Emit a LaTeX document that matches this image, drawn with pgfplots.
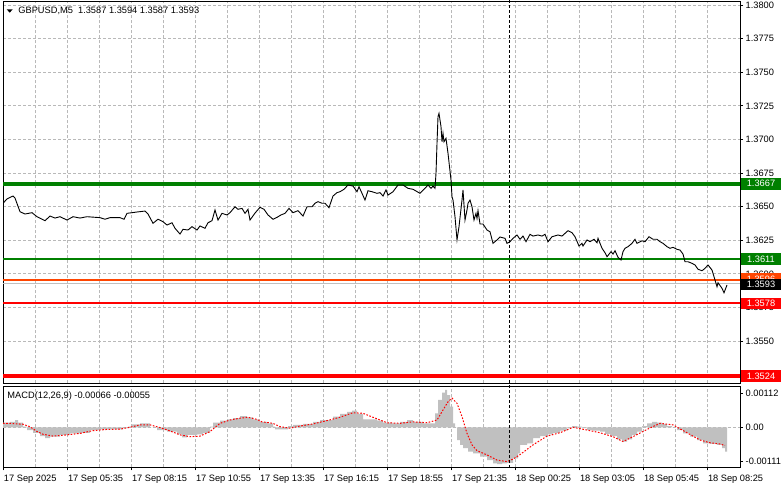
\documentclass[border=0pt]{standalone}
\usepackage{fontspec}
\setmainfont{Liberation Sans}
\usepackage{pgfplots}
\pgfplotsset{compat=1.18}
\definecolor{mtgreen}{RGB}{0,128,0}
\definecolor{mtred}{RGB}{255,0,0}
\definecolor{mtorange}{RGB}{255,69,0}
\definecolor{mtsilver}{RGB}{192,192,192}
\definecolor{gridgray}{RGB}{185,185,185}
\newcommand\mtfont{\fontsize{9.3}{10}\selectfont}
\pgfplotsset{
  mtpanel/.style={
    scale only axis, width=737bp,
    xmin=3, xmax=740,
    axis line style={black, line width=0.8bp},
    tick style={black, line width=0.8bp},
    tick align=outside, major tick length=3bp, minor tick length=0pt,
    xtick={3.5,67.5,131.5,195.5,259.5,323.5,387.5,451.5,515.5,579.5,643.5,707.5},
    minor xtick={35.5,99.5,163.5,227.5,291.5,355.5,419.5,483.5,547.5,611.5,675.5},
    xmajorgrids, xminorgrids,
    grid style={gridgray, dash pattern=on 3bp off 2bp, line width=0.8bp},
    ytick pos=right, yticklabel pos=right,
    scaled y ticks=false,
    yticklabel style={anchor=west, inner sep=0pt, xshift=2.5bp, font=\mtfont},
    xticklabel style={anchor=north west, inner sep=0pt, xshift=0.3bp, yshift=-5bp, font=\mtfont},
    clip mode=individual,
  },
}
\tikzset{
  lvlbox/.style={anchor=west, minimum width=40bp, minimum height=11.5bp,
    inner xsep=0pt, inner ysep=0pt, text=white, font=\mtfont},
}
\begin{document}
\begin{tikzpicture}
\useasboundingbox (0,0) rectangle (781bp,489bp);
\fill[white] (0,0) rectangle (781bp,489bp);

% price panel
\begin{axis}[mtpanel,
  at={(3bp,105.5bp)}, anchor=south west, height=382.5bp,
  ymin=1.35184, ymax=1.3803,
  xticklabels={}, xtick style={draw=none},
  ymajorgrids,
  ytick={1.3525,1.355,1.3575,1.36,1.3625,1.365,1.3675,1.37,1.3725,1.375,1.3775,1.38},
  yticklabels={1.3525,1.3550,1.3575,1.3600,1.3625,1.3650,1.3675,1.3700,1.3725,1.3750,1.3775,1.3800},
]
% period separator
\addplot[black, dash pattern=on 3bp off 2bp, line width=0.8bp] coordinates {(509,1.34) (509,1.39)};
% levels
\addplot[mtgreen, line width=4bp] coordinates {(3,1.3667) (740,1.3667)};
\addplot[mtgreen, line width=2bp] coordinates {(3,1.3611) (740,1.3611)};
\addplot[mtorange, line width=1.4bp] coordinates {(3,1.35955) (740,1.35955)};
\addplot[mtsilver, line width=1.2bp] coordinates {(3,1.3593) (740,1.3593)};
\addplot[mtred, line width=2bp] coordinates {(3,1.3578) (740,1.3578)};
\addplot[mtred, line width=4bp] coordinates {(3,1.3524) (740,1.3524)};
% GBPUSD M5 close
\addplot[black, line width=0.9bp] table {
x y
3 1.36525
7 1.36557
13 1.36579
15 1.36564
20 1.36462
25 1.36445
32 1.36455
37 1.36425
45 1.36395
50 1.36430
55 1.36415
60 1.36425
67 1.36400
73 1.36425
80 1.36415
87 1.36425
100 1.36418
105 1.36406
110 1.36418
120 1.36418
124 1.36406
127 1.36450
132 1.36455
137 1.36460
145 1.36467
148 1.36445
153 1.36376
158 1.36406
163 1.36388
167 1.36363
172 1.36380
175 1.36339
180 1.36296
183 1.36331
188 1.36326
192 1.36351
197 1.36326
200 1.36356
205 1.36339
208 1.36380
212 1.36395
215 1.36475
218 1.36400
222 1.36450
227 1.36438
230 1.36455
235 1.36499
238 1.36480
242 1.36487
245 1.36450
248 1.36480
250 1.36400
255 1.36452
260 1.36495
264 1.36480
268 1.36438
273 1.36406
277 1.36420
281 1.36438
285 1.36450
289 1.36487
293 1.36455
298 1.36470
303 1.36430
307 1.36499
312 1.36499
315 1.36525
318 1.36537
322 1.36525
325 1.36525
329 1.36492
333 1.36579
337 1.36604
340 1.36611
344 1.36629
348 1.36661
353 1.36653
357 1.36611
359 1.36648
362 1.36599
365 1.36549
368 1.36618
372 1.36611
377 1.36599
380 1.36604
383 1.36579
386 1.36624
388 1.36586
393 1.36611
398 1.36661
403 1.36661
408 1.36636
413 1.36629
420 1.36599
425 1.36636
428 1.36661
431 1.36636
433 1.36653
435 1.36636
436 1.36748
437 1.36971
438 1.37169
439 1.37194
441 1.37095
442 1.36983
443 1.37045
444 1.36983
446 1.37008
448 1.36897
451 1.36698
452 1.36574
453 1.36549
455 1.36425
457 1.36252
459 1.36351
462 1.36549
463 1.36624
465 1.36400
467 1.36475
468 1.36525
470 1.36549
472 1.36499
474 1.36400
476 1.36450
477 1.36413
478 1.36470
480 1.36371
483 1.36371
487 1.36326
490 1.36313
493 1.36227
497 1.36252
500 1.36274
505 1.36264
507 1.36227
510 1.36239
513 1.36264
517 1.36289
520 1.36257
523 1.36281
526 1.36239
530 1.36294
533 1.36281
538 1.36289
542 1.36281
545 1.36294
548 1.36239
552 1.36276
558 1.36289
562 1.36281
565 1.36301
568 1.36321
572 1.36306
575 1.36276
579 1.36207
582 1.36227
583 1.36207
587 1.36252
590 1.36239
594 1.36257
597 1.36231
598 1.36264
602 1.36190
605 1.36157
607 1.36127
611 1.36165
613 1.36147
615 1.36172
618 1.36123
621 1.36103
623 1.36165
625 1.36190
628 1.36202
632 1.36227
635 1.36257
637 1.36227
642 1.36246
645 1.36239
649 1.36276
653 1.36257
657 1.36257
660 1.36239
663 1.36227
667 1.36202
670 1.36190
673 1.36197
677 1.36182
680 1.36177
683 1.36147
685 1.36090
688 1.36090
692 1.36078
695 1.36066
698 1.36034
702 1.36023
705 1.36041
708 1.36066
712 1.36028
715 1.35954
717 1.35904
718 1.35934
722 1.35892
724 1.35859
727 1.35917
};
% level labels on the price scale
\node[lvlbox, fill=mtgreen] at (axis cs:740.8,1.3667) {1.3667};
\node[lvlbox, fill=mtgreen] at (axis cs:740.8,1.3611) {1.3611};
\node[lvlbox, fill=mtorange] at (axis cs:740.8,1.35962) {1.3596};
\node[lvlbox, fill=black] at (axis cs:740.8,1.3592) {1.3593};
\node[lvlbox, fill=mtred] at (axis cs:740.8,1.3578) {1.3578};
\node[lvlbox, fill=mtred] at (axis cs:740.8,1.3524) {1.3524};
\end{axis}

% MACD panel
\begin{axis}[mtpanel,
  at={(3bp,21.7bp)}, anchor=south west, height=81.3bp,
  ymin=-0.001318, ymax=0.00136,
  xtick pos=bottom,
  xticklabels={17 Sep 2025,17 Sep 05:35,17 Sep 08:15,17 Sep 10:55,17 Sep 13:35,17 Sep 16:15,17 Sep 18:55,17 Sep 21:35,18 Sep 00:25,18 Sep 03:05,18 Sep 05:45,18 Sep 08:25},
  ytick={-0.00111,0,0.00112},
  yticklabels={-0.00111,0.00,0.00112},
]
\addplot[gridgray, dash pattern=on 3bp off 2bp, line width=0.8bp] coordinates {(3,0) (740,0)};
% histogram
\addplot[draw=none, fill=mtsilver, const plot] table {
x y
3 0.00015
10 0.00018
15 0.00024
18 0.00015
23 0.00002
27 -0.00009
33 -0.00018
40 -0.00029
45 -0.00036
50 -0.00031
60 -0.00025
70 -0.00020
80 -0.00018
90 -0.00009
100 -0.00007
113 -0.00007
123 -0.00003
128 0.00002
132 0.00010
140 0.00013
147 0.00013
150 0.00000
157 -0.00009
167 -0.00014
177 -0.00023
182 -0.00033
187 -0.00025
197 -0.00023
203 -0.00018
210 0.00002
213 0.00015
220 0.00022
227 0.00026
233 0.00030
240 0.00037
247 0.00033
253 0.00026
258 0.00022
260 0.00018
267 0.00013
273 0.00002
275 -0.00007
283 -0.00007
288 0.00004
293 0.00008
303 0.00011
313 0.00018
320 0.00024
327 0.00024
333 0.00035
340 0.00044
347 0.00051
352 0.00055
357 0.00044
363 0.00026
370 0.00026
377 0.00022
383 0.00015
392 0.00013
400 0.00018
407 0.00024
413 0.00018
423 0.00013
433 0.00013
435 0.00046
438 0.00090
442 0.00114
445 0.00123
447 0.00106
450 0.00068
453 0.00013
455 0.00000
457 -0.00042
460 -0.00058
463 -0.00069
468 -0.00080
473 -0.00086
480 -0.00097
487 -0.00108
493 -0.00119
497 -0.00121
502 -0.00119
507 -0.00117
513 -0.00102
518 -0.00086
520 -0.00058
527 -0.00053
533 -0.00036
540 -0.00029
547 -0.00023
553 -0.00018
560 -0.00011
567 -0.00003
572 0.00004
577 0.00002
582 -0.00003
587 -0.00009
593 -0.00011
600 -0.00014
605 -0.00022
610 -0.00029
617 -0.00040
622 -0.00047
627 -0.00040
632 -0.00025
637 -0.00014
642 0.00004
647 0.00013
652 0.00018
657 0.00015
662 0.00011
667 0.00004
672 0.00000
677 -0.00009
683 -0.00020
690 -0.00031
697 -0.00042
703 -0.00053
710 -0.00055
717 -0.00058
722 -0.00069
725 -0.00080
727 -0.00077
} \closedcycle;
% signal line
\addplot[mtred, dash pattern=on 1.6bp off 1.6bp, line width=1bp] table {
x y
3 0.00013
10 0.00013
23 0.00010
30 0.00002
37 -0.00014
43 -0.00023
53 -0.00029
67 -0.00025
80 -0.00020
93 -0.00011
107 -0.00007
120 -0.00006
130 0.00000
140 0.00008
150 0.00008
160 -0.00001
170 -0.00012
180 -0.00025
190 -0.00031
200 -0.00029
210 -0.00014
220 0.00013
230 0.00024
240 0.00030
248 0.00033
257 0.00026
262 0.00018
273 0.00013
280 0.00002
290 -0.00003
300 0.00004
313 0.00011
327 0.00022
340 0.00033
353 0.00048
363 0.00046
373 0.00033
387 0.00015
400 0.00013
413 0.00018
427 0.00015
437 0.00024
443 0.00057
448 0.00084
452 0.00096
457 0.00079
462 0.00035
467 -0.00020
472 -0.00058
477 -0.00077
487 -0.00091
497 -0.00108
507 -0.00113
513 -0.00105
520 -0.00090
533 -0.00058
547 -0.00029
560 -0.00018
573 0.00000
587 -0.00009
600 -0.00018
613 -0.00031
623 -0.00047
633 -0.00031
647 -0.00007
660 0.00013
673 0.00008
687 -0.00018
700 -0.00042
710 -0.00051
720 -0.00055
725 -0.00060
};
\addplot[black, dash pattern=on 3bp off 2bp, line width=0.8bp] coordinates {(509,-0.002) (509,0.002)};
\end{axis}

% window captions
\fill (6.7bp,479.7bp) -- (12.7bp,479.7bp) -- (9.7bp,476.3bp) -- cycle;
\node[anchor=base west, inner sep=0pt, font=\mtfont] at (18.2bp,475.7bp) {GBPUSD,M5\ \ 1.3587 1.3594 1.3587 1.3593};
\node[anchor=base west, inner sep=0pt, font=\mtfont] at (7.3bp,90.7bp) {MACD(12,26,9) -0.00066 -0.00055};
\end{tikzpicture}
\end{document}
